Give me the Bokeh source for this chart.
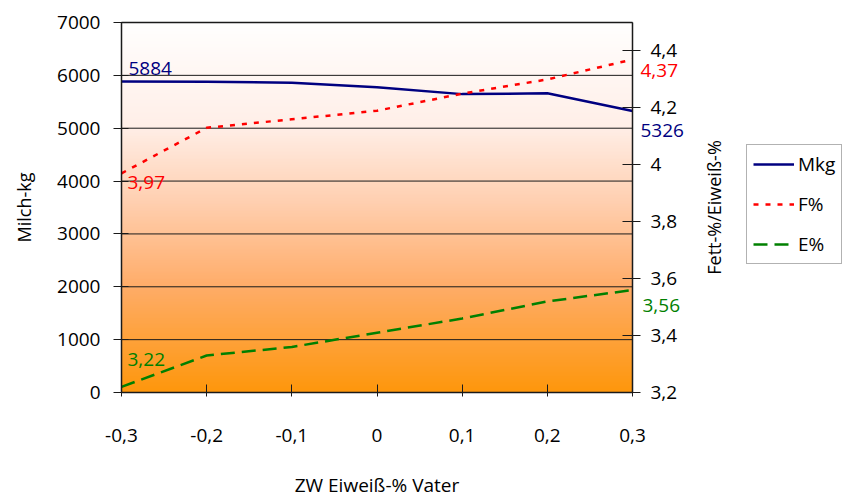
import math
import numpy as np
from bokeh.plotting import figure
from bokeh.models import (Range1d, LinearAxis, FixedTicker, Legend, LegendItem,
                          Label)
from bokeh.embed import file_html
from bokeh.resources import INLINE

# Breeding value of the sire (protein %) and daughters' performance
zw_vater = [-0.3, -0.2, -0.1, 0.0, 0.1, 0.2, 0.3]
x_labels = ["-0,3", "-0,2", "-0,1", "0", "0,1", "0,2", "0,3"]
mkg = [5884, 5880, 5862, 5775, 5645, 5660, 5326]
fett = [3.97, 4.13, 4.16, 4.19, 4.25, 4.30, 4.37]
eiweiss = [3.22, 3.33, 3.36, 3.41, 3.46, 3.52, 3.56]

left_ticks = [0, 1000, 2000, 3000, 4000, 5000, 6000, 7000]
right_ticks = [3.2, 3.4, 3.6, 3.8, 4.0, 4.2, 4.4]
right_labels = ["3,2", "3,4", "3,6", "3,8", "4", "4,2", "4,4"]

X_LO, X_HI = -0.3, 0.3
KG_LO, KG_HI = 0, 7000
PCT_LO, PCT_HI = 3.2, 4.5

FONT = "Open Sans"
FS = "19px"
NAVY = "#000080"
RED = "#FF0000"
GREEN = "#008000"
INK = "#000000"
LINE = "#1a1a1a"

# canvas size and the pixel box of the plotting area inside it
W, H = 845, 497
L, R, T, B = 121, 632, 22, 392


def pad(lo, hi, before, after, span):
    unit = (hi - lo) / span
    return lo - before * unit, hi + after * unit


xr = Range1d(*pad(X_LO, X_HI, L, W - R, R - L))
yr = Range1d(*pad(KG_LO, KG_HI, H - B, T, B - T))
pr = Range1d(*pad(PCT_LO, PCT_HI, H - B, T, B - T))

p = figure(width=W, height=H, output_backend="svg", toolbar_location=None,
           x_range=xr, y_range=yr, x_axis_type=None, y_axis_type=None,
           min_border=0)
p.extra_y_ranges = {"pct": pr}
p.background_fill_color = "white"
p.border_fill_color = "white"
p.outline_line_color = None

# vertical background gradient (white at top to orange at bottom)
stops_t = [0.0, 0.03, 0.28, 0.49, 0.71, 1.0]
stops_c = [(255, 255, 255), (255, 253, 252), (255, 239, 232), (255, 207, 175),
           (255, 173, 106), (254, 151, 12)]
n = 256
t = np.linspace(1.0, 0.0, n)  # row 0 is the bottom of the image
img = np.zeros((n, 1), dtype=np.uint32)
view = img.view(dtype=np.uint8).reshape((n, 1, 4))
for ch in range(3):
    view[:, 0, ch] = np.interp(t, stops_t, [c[ch] for c in stops_c]).astype(np.uint8)
view[:, 0, 3] = 255
bg = p.image_rgba(image=[img], x=X_LO, y=KG_LO, dw=X_HI - X_LO, dh=KG_HI - KG_LO)
bg.level = "image"

# horizontal grid lines inside the plotting area
p.segment(x0=[X_LO] * len(left_ticks), y0=left_ticks,
          x1=[X_HI] * len(left_ticks), y1=left_ticks,
          line_color=LINE, line_width=1)
# top border of the plotting area
p.segment(x0=[X_LO], y0=[KG_HI], x1=[X_HI], y1=[KG_HI], line_color=LINE,
          line_width=1.5)

# left axis (Milch-kg)
yax = LinearAxis(fixed_location=X_LO, bounds=(KG_LO, KG_HI),
                 ticker=FixedTicker(ticks=left_ticks))
yax.axis_label = "Milch-kg"
yax.axis_label_text_font = FONT
yax.axis_label_text_font_style = "normal"
yax.axis_label_text_font_size = "18px"
yax.axis_label_text_color = INK
yax.axis_label_standoff = 18
yax.major_label_text_font = FONT
yax.major_label_text_font_size = FS
yax.major_label_text_color = INK
yax.major_label_standoff = 13
yax.major_tick_in = 7
yax.major_tick_out = 8
yax.major_tick_line_color = LINE
yax.minor_tick_line_color = None
yax.axis_line_color = LINE
yax.axis_line_width = 1.5
p.add_layout(yax, "left")

# bottom axis (sire's breeding value)
xax = LinearAxis(fixed_location=KG_LO, bounds=(X_LO, X_HI),
                 ticker=FixedTicker(ticks=zw_vater))
xax.major_label_overrides = {v: s for v, s in zip(zw_vater, x_labels)}
xax.major_label_text_font = FONT
xax.major_label_text_font_size = FS
xax.major_label_text_color = INK
xax.major_label_standoff = 32
xax.major_tick_in = 8
xax.major_tick_out = 4
xax.major_tick_line_color = LINE
xax.minor_tick_line_color = None
xax.axis_line_color = LINE
xax.axis_line_width = 1.5
xax.axis_label = "ZW Eiweiß-% Vater"
xax.axis_label_text_font = FONT
xax.axis_label_text_font_style = "normal"
xax.axis_label_text_font_size = FS
xax.axis_label_text_color = INK
xax.axis_label_standoff = 27
p.add_layout(xax, "below")

# right axis (fat / protein percent)
rax = LinearAxis(y_range_name="pct", fixed_location=X_HI, bounds=(PCT_LO, PCT_HI),
                 ticker=FixedTicker(ticks=right_ticks))
rax.major_label_overrides = {v: s for v, s in zip(right_ticks, right_labels)}
rax.major_label_text_font = FONT
rax.major_label_text_font_size = FS
rax.major_label_text_color = INK
rax.major_label_standoff = 10
rax.major_tick_in = 10
rax.major_tick_out = 8
rax.major_tick_line_color = LINE
rax.minor_tick_line_color = None
rax.axis_line_color = LINE
rax.axis_line_width = 1.5
p.add_layout(rax, "right")

p.add_layout(Label(x=713, y=H - 207, x_units="screen", y_units="screen",
                   text="Fett-%/Eiweiß-%", angle=math.pi / 2,
                   text_align="center", text_baseline="middle",
                   text_font=FONT, text_font_size="18px", text_color=INK))

# series
r_m = p.line(zw_vater, mkg, line_color=NAVY, line_width=2.5)
r_f = p.line(zw_vater, fett, y_range_name="pct", line_color=RED, line_width=2.5,
             line_dash="5 7")
r_e = p.line(zw_vater, eiweiss, y_range_name="pct", line_color=GREEN,
             line_width=2.5, line_dash="14 7")


# value labels at the first and last points
def pct(v):
    return f"{v:.2f}".replace(".", ",")


lab_kw = dict(text_font=FONT, text_font_size=FS, text_baseline="middle")
p.add_layout(Label(x=zw_vater[0], y=mkg[0], text=str(mkg[0]), text_color=NAVY,
                   x_offset=7, y_offset=13, **lab_kw))
p.add_layout(Label(x=zw_vater[-1], y=mkg[-1], text=str(mkg[-1]), text_color=NAVY,
                   x_offset=8, y_offset=-20, **lab_kw))
p.add_layout(Label(x=zw_vater[0], y=fett[0], y_range_name="pct", text=pct(fett[0]),
                   text_color=RED, x_offset=6, y_offset=-9, **lab_kw))
p.add_layout(Label(x=zw_vater[-1], y=fett[-1], y_range_name="pct",
                   text=pct(fett[-1]), text_color=RED, x_offset=8,
                   y_offset=-11, **lab_kw))
p.add_layout(Label(x=zw_vater[0], y=eiweiss[0], y_range_name="pct",
                   text=pct(eiweiss[0]), text_color=GREEN, x_offset=6,
                   y_offset=27, **lab_kw))
p.add_layout(Label(x=zw_vater[-1], y=eiweiss[-1], y_range_name="pct",
                   text=pct(eiweiss[-1]), text_color=GREEN, x_offset=10,
                   y_offset=-15, **lab_kw))

# legend box to the right of the chart
legend = Legend(items=[LegendItem(label="Mkg", renderers=[r_m]),
                       LegendItem(label="F%", renderers=[r_f]),
                       LegendItem(label="E%", renderers=[r_e])],
                location=(746, H - 264), orientation="vertical")
legend.label_text_font = FONT
legend.label_text_font_size = FS
legend.label_text_color = INK
legend.border_line_color = "#666666"
legend.border_line_width = 1
legend.background_fill_color = "white"
legend.background_fill_alpha = 1
legend.glyph_width = 41
legend.label_standoff = 4
legend.padding = 6
legend.spacing = 14
legend.margin = 0
p.add_layout(legend, "center")

open("out.html", "w").write(file_html(p, INLINE))
